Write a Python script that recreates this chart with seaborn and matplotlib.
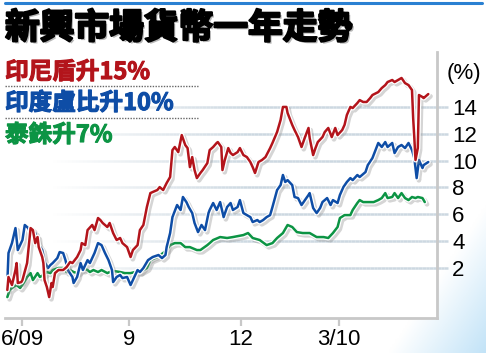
import numpy as np
import pandas as pd
import matplotlib
matplotlib.use("Agg")
import matplotlib.pyplot as plt
import matplotlib.patheffects as pe
from matplotlib.collections import LineCollection
from matplotlib.lines import Line2D
import seaborn as sns

# ---------------- data (days since mid-May 2009, % change) ----------------
red_day = [2, 3, 6, 9, 10, 11, 14, 15, 19, 21, 22, 24, 26, 28, 29, 32, 33, 34, 36, 38,
           40, 41, 43, 46, 50, 53, 56, 58, 62, 65, 66, 69, 71, 75, 77, 80, 82, 84, 88, 90,
           93, 96, 99, 101, 105, 108, 110, 114, 116, 119, 122, 125, 127, 131, 133, 136, 139, 142, 144, 146,
           149, 152, 155, 157, 159, 161, 163, 165, 168, 170, 174, 176, 179, 182, 183, 186, 187, 189, 192, 194,
           196, 200, 202, 205, 208, 211, 213, 215, 218, 221, 224, 228, 230, 234, 237, 239, 242, 243, 247, 249,
           252, 255, 258, 261, 262, 265, 267, 269, 273, 275, 278, 281, 284, 286, 290, 292, 294, 297, 299, 303,
           305, 308, 311, 314, 316, 321, 324, 327, 329, 333, 335, 338, 341, 344, 347, 350, 351, 352, 353, 355,
           356, 359, 360, 362, 364]
red_val = [0.34, 1.31, 0.71, 1.83, 2.35, 0.86, 0.93, 1.08, 2.35, 4.07, 4.96, 4.81, 3.84, 4.29, 3.54, 2.80, 2.35, 1.08, 0.56, -0.19,
           0.86, 0.56, 1.60, 1.83, 1.83, 2.05, 2.43, 2.35, 2.80, 3.32, 3.84, 3.69, 4.81, 5.19, 4.81, 5.71, 5.56, 5.34, 5.04, 5.34,
           4.59, 4.07, 4.22, 3.84, 3.54, 2.80, 3.32, 3.69, 4.81, 5.19, 6.53, 7.57, 7.65, 7.80, 8.02, 7.80, 8.32, 8.77, 10.78, 11.01,
           10.63, 11.90, 11.16, 10.93, 9.51, 10.26, 9.29, 8.69, 9.07, 9.29, 9.81, 10.78, 11.01, 11.31, 11.38, 11.01, 9.29, 10.04, 10.93, 10.56,
           10.41, 10.63, 10.93, 10.41, 10.26, 9.89, 9.51, 9.07, 9.89, 10.04, 10.26, 10.93, 11.31, 12.13, 13.03, 14.00, 14.00, 13.55, 12.66, 12.28,
           11.75, 11.01, 11.75, 12.43, 11.68, 10.41, 10.93, 11.38, 11.75, 12.13, 12.43, 11.75, 12.43, 11.90, 12.28, 12.66, 13.40, 14.00, 13.92, 14.29,
           14.51, 14.37, 14.37, 14.66, 14.89, 15.11, 15.41, 15.63, 15.86, 16.01, 15.86, 16.01, 16.16, 15.78, 15.63, 15.26, 13.17, 11.68, 10.04, 10.93,
           14.89, 14.74, 14.66, 14.81, 14.96]

blue_day = [2, 3, 6, 9, 11, 15, 17, 20, 23, 26, 28, 32, 34, 37, 39, 41, 45, 47, 50, 52,
            54, 58, 59, 62, 65, 67, 71, 73, 77, 80, 83, 86, 89, 92, 93, 96, 99, 101, 105, 108,
            110, 114, 116, 119, 123, 127, 132, 135, 138, 139, 142, 144, 148, 151, 153, 156, 158, 161, 163, 166,
            169, 172, 175, 176, 179, 182, 185, 188, 191, 194, 196, 200, 202, 205, 208, 211, 213, 217, 219, 222,
            225, 228, 230, 234, 237, 239, 241, 243, 247, 249, 252, 255, 258, 261, 262, 265, 268, 271, 273, 277,
            280, 282, 286, 288, 291, 294, 297, 299, 303, 305, 310, 312, 316, 318, 321, 324, 327, 329, 333, 335,
            338, 341, 344, 347, 350, 352, 354, 356, 359, 360, 364]
blue_val = [0.86, 3.10, 3.84, 4.96, 3.32, 4.07, 5.19, 4.96, 4.29, 4.59, 3.84, 3.32, 2.43, 1.98, 2.20, 2.35, 2.72, 3.17, 3.10, 2.57,
            1.83, 1.31, 0.86, 1.31, 2.35, 1.83, 2.57, 2.35, 3.10, 3.84, 3.69, 3.10, 2.57, 1.83, 0.93, 1.31, 1.46, 1.23, 1.31, 0.71,
            1.08, 1.83, 1.68, 1.98, 2.57, 2.80, 2.95, 2.72, 2.95, 3.54, 4.59, 5.78, 6.68, 6.31, 7.28, 6.90, 6.53, 6.08, 5.34, 4.66,
            5.19, 4.81, 6.08, 6.31, 6.83, 6.31, 6.90, 5.78, 6.53, 6.83, 6.31, 6.53, 7.05, 6.08, 5.93, 5.78, 5.41, 5.56, 5.41, 5.56,
            5.78, 5.93, 6.53, 7.80, 8.17, 8.92, 8.40, 8.54, 8.17, 7.28, 7.20, 6.68, 7.05, 7.43, 7.57, 6.46, 6.08, 6.46, 6.90, 7.20,
            6.68, 7.05, 6.83, 7.43, 8.02, 8.40, 8.69, 8.54, 8.92, 8.77, 9.14, 9.66, 10.19, 10.63, 11.31, 11.01, 11.38, 11.01, 11.31, 10.56,
            11.01, 11.16, 10.93, 11.31, 10.78, 10.19, 8.69, 10.04, 9.44, 9.66, 9.89]

green_day = [2, 4, 7, 10, 13, 16, 19, 22, 24, 28, 30, 33, 36, 39, 41, 46, 50, 53, 56, 59,
             62, 65, 67, 71, 73, 76, 80, 83, 88, 90, 94, 99, 103, 108, 112, 116, 122, 125, 131, 136,
             139, 142, 146, 151, 155, 159, 165, 168, 174, 179, 185, 191, 196, 205, 209, 213, 219, 225, 230, 234,
             239, 243, 247, 251, 256, 262, 268, 274, 278, 282, 286, 288, 292, 297, 299, 303, 305, 308, 312, 317,
             321, 324, 327, 329, 333, 335, 338, 341, 344, 347, 350, 353, 355, 359, 361]
green_val = [-0.19, 0.34, 0.56, 0.71, 0.49, 0.86, 1.31, 1.60, 1.08, 1.60, 1.31, 1.46, 1.68, 1.60, 1.83, 1.98, 1.98, 1.68, 1.83, 1.68,
             1.60, 1.83, 1.98, 1.83, 1.68, 1.83, 1.68, 1.83, 1.60, 1.68, 1.75, 1.68, 1.60, 1.60, 1.68, 1.68, 1.98, 2.57, 2.80, 3.10,
             3.32, 3.69, 3.84, 3.84, 3.54, 3.54, 3.32, 3.32, 3.69, 4.07, 4.29, 4.22, 4.29, 4.44, 4.59, 4.22, 4.07, 3.69, 3.84, 4.22,
             4.59, 5.19, 5.04, 4.66, 4.59, 4.59, 4.29, 4.29, 4.22, 4.59, 5.04, 5.71, 5.93, 5.93, 6.31, 6.83, 7.05, 6.90, 6.90, 6.90,
             7.05, 7.20, 7.57, 7.20, 7.28, 7.57, 7.20, 7.57, 7.20, 7.05, 7.28, 7.20, 7.28, 7.20, 6.90]

series_names = ["印尼盾升15%", "印度盧比升10%", "泰銖升7%"]
series_colors = ["#b3141b", "#0e4da6", "#0c9444"]
x_ticks = [15, 107, 203, 287]
x_labels = ["6/09", "9", "12", "3/10"]
y_ticks = [2, 4, 6, 8, 10, 12, 14]
title = "新興市場貨幣一年走勢"

# ---------------- figure ----------------
sns.set_theme(style="white")
plt.rcParams["font.family"] = ["Liberation Sans", "DejaVu Sans"]
cjk = ["Noto Sans CJK TC", "DejaVu Sans"]

W, H = 486, 353
fig = plt.figure(figsize=(W / 100, H / 100), dpi=100)

# background gradient (lower-right light blue)
bg = fig.add_axes([0, 0, 1, 1], zorder=-10)
u = np.linspace(0, 1, 300)[None, :]
v = np.linspace(1, 0, 220)[:, None]
t = np.clip((u - 0.48 * v - 0.80) / 0.20, 0, 1)
col0 = np.array([1.0, 1.0, 1.0])
col1 = np.array([0.76, 0.89, 0.97])
img = col0[None, None, :] * (1 - t[..., None]) + col1[None, None, :] * t[..., None]
bg.imshow(img, extent=[0, 1, 0, 1], aspect="auto")
bg.set_axis_off()

# blue top rule
fig.add_artist(Line2D([5 / W, 482 / W], [1 - 2.5 / H, 1 - 2.5 / H], color="#2a80d2", lw=2.2))

ax = fig.add_axes([5 / W, 35 / H, 432 / W, (318 - 52) / H])
ax.set_facecolor("white")
xmax = 371.5
ax.set_xlim(0, xmax)
ax.set_ylim(-1.75, 18.1)

# fading gridlines extending to the right labels
for yv in y_ticks:
    xs = np.linspace(0, xmax + 9.5, 120)
    segs = [[(xs[i], yv), (xs[i + 1], yv)] for i in range(len(xs) - 1)]
    mid = (xs[:-1] + xs[1:]) / 2
    a = np.clip((mid - 40) / 170, 0, 1) * 0.9
    cols = [(0.78, 0.83, 0.87, ai) for ai in a]
    lc = LineCollection(segs, colors=cols, linewidths=1.8, clip_on=False, zorder=1)
    ax.add_collection(lc)

shadow = [pe.SimpleLineShadow(offset=(1.6, -1.6), shadow_color="#888888", alpha=0.35, linewidth=3.4),
          pe.Stroke(linewidth=3.6, foreground="white"), pe.Normal()]

for d, vals, c in [(green_day, green_val, series_colors[2]),
                   (blue_day, blue_val, series_colors[1]),
                   (red_day, red_val, series_colors[0])]:
    df = pd.DataFrame({"day": d, "val": vals})
    sns.lineplot(data=df, x="day", y="val", ax=ax, color=c, lw=1.8, sort=False,
                 estimator=None, legend=False, zorder=3)
    ax.lines[-1].set_path_effects(shadow)

# axes styling
for s in ["left", "top"]:
    ax.spines[s].set_visible(False)
for s in ["bottom", "right"]:
    ax.spines[s].set_color("#c8c8c8")
    ax.spines[s].set_linewidth(2)
ax.set_xlabel("")
ax.set_ylabel("")
ax.set_xticks(x_ticks)
ax.set_xticklabels(x_labels)
ax.yaxis.tick_right()
ax.set_yticks(y_ticks)
ax.set_yticklabels([str(v) for v in y_ticks])
ax.tick_params(axis="x", bottom=True, length=6, width=1.6, color="#c8c8c8",
               labelsize=16, pad=2, labelcolor="black")
ax.tick_params(axis="y", right=True, length=0, pad=11, labelsize=16, labelcolor="black")
ax.grid(False)

fig.text(447 / W, 1 - 73 / H, "(%)", fontsize=16, va="center", ha="left", color="black")

# title (heavy, with soft shadow)
fig.text(5 / W, 1 - 28 / H, title, family=cjk, fontsize=25, weight="black", color="black",
         va="center", ha="left",
         path_effects=[pe.SimplePatchShadow(offset=(1.5, -1.5), shadow_rgbFace="#888888", alpha=0.6),
                       pe.Stroke(linewidth=1.6, foreground="black"), pe.Normal()])

# legend-like labels
lab_y = [72, 103, 135]
for name, c, yy in zip(series_names, series_colors, lab_y):
    fig.text(5 / W, 1 - yy / H, name, family=cjk, fontsize=17, weight="bold", color=c,
             va="center", ha="left",
             path_effects=[pe.Stroke(linewidth=0.8, foreground=c), pe.Normal()])
for yy in [86, 118]:
    fig.add_artist(Line2D([5 / W, 198 / W], [1 - yy / H, 1 - yy / H], color="#666666",
                          lw=1, ls=(0, (1, 1))))

fig.savefig("out.png", dpi=100)
